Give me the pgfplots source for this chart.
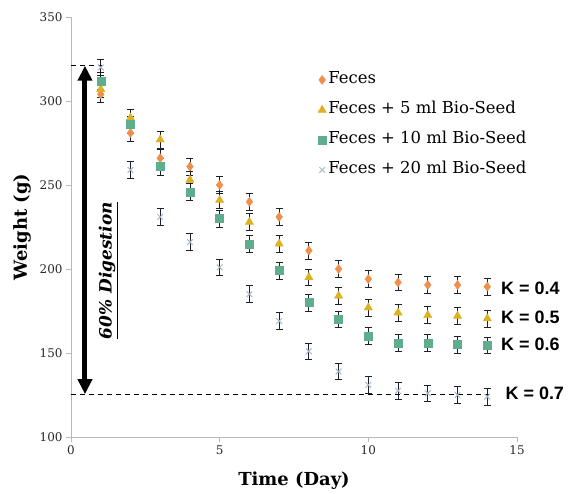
\documentclass[border=0pt]{standalone}
\usepackage{fontspec}
\setmainfont{DejaVu Serif}
\newfontfamily\arialb{Liberation Sans}
\usepackage{pgfplots}
\usepackage{pgfplotstable}
\pgfplotsset{compat=1.18}
\usetikzlibrary{arrows.meta}
\definecolor{cfec}{HTML}{EE8F4C}
\definecolor{cfive}{HTML}{DDB222}
\definecolor{cten}{HTML}{5EAD8D}
\definecolor{ctw}{HTML}{A8BACA}
\definecolor{errc}{HTML}{1C1F2E}
\definecolor{axc}{HTML}{B8B8B8}

\pgfplotstableread{
day fec t5 t10 t20
1 304 307 312 320
2 281 290 286 259
3 266 277 261 231
4 261 253 246 216
5 250 241 230 201
6 240 228 215 185
7 231 215 199 169
8 211 195 180 151
9 200 184 170 139
10 194 177 160 131
11 192 174 156 127.5
12 190.5 172.5 156 126
13 190.5 172 155 125
14 189.5 170.5 154.5 124
}\data

\begin{document}
\begin{tikzpicture}
\useasboundingbox (0,0) rectangle (576bp,494bp);
\begin{axis}[
  at={(71bp,57bp)}, anchor=south west,
  scale only axis, width=446bp, height=420bp,
  xmin=0, xmax=15, ymin=100, ymax=350,
  axis lines=left,
  axis line style={-, draw=axc, line width=0.8bp},
  xtick={0,5,10,15}, ytick={100,150,200,250,300,350},
  tick align=outside, major tick length=5bp,
  tick style={draw=axc, line width=0.8bp},
  /pgf/number format/assume math mode=true,
  ticklabel style={font=\fontsize{12}{12}\selectfont, text=black!85},
  xlabel={\textbf{Time (Day)}},
  ylabel={\textbf{Weight (g)}},
  label style={font=\fontsize{18}{18}\selectfont},
  xlabel style={at={(axis description cs:0.5,-0.105)}, anchor=center},
  ylabel style={at={(axis description cs:-0.11,0.5)}, anchor=center, rotate=0},
  clip=false,
  legend style={at={(axis cs:8.2,318)}, anchor=north west, draw=none, fill=none,
     font=\fontsize{16.5}{16.5}\selectfont,
     nodes={inner sep=0pt, text height=11bp, text depth=3bp},
     row sep=16bp, column sep=2bp},
  legend cell align=left,
  legend image code/.code={\draw[#1,/tikz/mark repeat=2,/tikz/mark phase=2] plot coordinates {(0bp,0bp)(5bp,0bp)(10bp,0bp)};},
  error bars/y dir=both, error bars/y fixed=5,
  error bars/error bar style={line width=0.8bp, draw=errc},
  error bars/error mark options={rotate=90, mark size=3.5bp, line width=0.8bp, draw=errc},
]
\addplot[only marks, mark=diamond*, mark size=4.5bp, mark options={fill=cfec, draw=cfec}] table[x=day, y=fec] {\data};
\addlegendentry{Feces}
\addplot[only marks, mark=triangle*, mark size=4.8bp, mark options={fill=cfive, draw=cfive}] table[x=day, y=t5] {\data};
\addlegendentry{Feces + 5 ml Bio-Seed}
\addplot[only marks, mark=square*, mark size=4bp, mark options={fill=cten, draw=cten}] table[x=day, y=t10] {\data};
\addlegendentry{Feces + 10 ml Bio-Seed}
\addplot[only marks, mark=x, mark size=4bp, mark options={draw=ctw, line width=1bp}] table[x=day, y=t20] {\data};
\addlegendentry{Feces + 20 ml Bio-Seed}

\draw[black, line width=1.2bp, dash pattern=on 5bp off 4bp] (axis cs:0,321) -- (axis cs:1.05,321);
\draw[black, line width=1.2bp, dash pattern=on 5bp off 4bp] (axis cs:0,125.5) -- (axis cs:14.1,125.5);
\draw[line width=5bp, {Triangle[length=15bp,width=14bp]}-{Triangle[length=15bp,width=14bp]}] (axis cs:0.47,321) -- (axis cs:0.47,125.5);
\node[rotate=90, font=\fontsize{17}{17}\selectfont\bfseries\itshape] at (axis cs:1.25,199) {\underline{60\% Digestion}};

\node[anchor=west, font=\arialb\bfseries\fontsize{18}{18}\selectfont] at (axis cs:14.35,188.5) {K = 0.4};
\node[anchor=west, font=\arialb\bfseries\fontsize{18}{18}\selectfont] at (axis cs:14.35,171) {K = 0.5};
\node[anchor=west, font=\arialb\bfseries\fontsize{18}{18}\selectfont] at (axis cs:14.35,155) {K = 0.6};
\node[anchor=west, font=\arialb\bfseries\fontsize{18}{18}\selectfont] at (axis cs:14.5,126) {K = 0.7};
\end{axis}
\end{tikzpicture}
\end{document}
